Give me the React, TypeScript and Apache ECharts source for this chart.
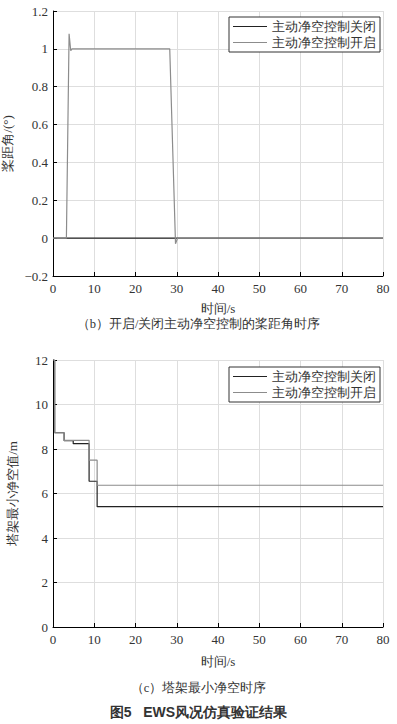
import React, { useEffect, useRef } from "react";
import * as echarts from "echarts";

const seriesNames = ["主动净空控制关闭", "主动净空控制开启"];

// Chart (b): pitch angle
const pitchOffT = [0, 80];
const pitchOffV = [0, 0];
const pitchOnT = [0, 3.25, 3.9, 4.3, 4.6, 28.3, 29.7, 30.2, 80];
const pitchOnV = [0, 0, 1.08, 0.99, 1, 1, -0.03, 0, 0];

// Chart (c): tower clearance
const clrOffT = [0, 0.4, 2.7, 4.9, 8.75, 10.7, 80];
const clrOffV = [12, 8.73, 8.37, 8.24, 6.55, 5.41, 5.41];
const clrOnT = [0, 0.4, 2.7, 8.75, 10.7, 80];
const clrOnV = [12, 8.73, 8.39, 7.5, 6.37, 6.37];

const zip = (t: number[], v: number[]) => t.map((x, i) => [x, v[i]]);

const FONT = "Liberation Serif";
const DARK = "#222";
const GRAY = "#8c8c8c";
const GRID = "#dedede";

export default function App() {
  const ref = useRef<HTMLDivElement>(null);
  useEffect(() => {
    if (!ref.current) return;
    const chart = echarts.init(ref.current, null, { renderer: "svg" });
    const axisCommon = {
      axisLine: { show: true, onZero: false, lineStyle: { color: "#000", width: 1 } },
      axisTick: { show: true, inside: true, length: 4, lineStyle: { color: "#000" } },
      splitLine: { show: true, lineStyle: { color: GRID, width: 1 } },
      axisLabel: { color: "#333", fontFamily: FONT, fontSize: 13 },
      nameTextStyle: { color: "#333", fontFamily: FONT, fontSize: 13 },
    };
    const fmtNum = (v: number) => {
      const r = parseFloat(v.toFixed(1));
      return r < 0 ? "\u2212" + Math.abs(r) : String(r);
    };
    const legendCommon = {
      orient: "vertical",
      data: seriesNames.map((n) => ({ name: n, icon: "rect" })),
      itemWidth: 34,
      itemHeight: 1.2,
      itemGap: 3,
      padding: [3, 4, 3, 4],
      borderColor: "#333",
      borderWidth: 1,
      backgroundColor: "#fff",
      textStyle: { color: "#333", fontFamily: FONT, fontSize: 13 },
      selectedMode: false,
    };
    chart.setOption({
      animation: false,
      textStyle: { fontFamily: FONT },
      grid: [
        { left: 53, top: 11, width: 330, height: 265, containLabel: false, outerBoundsMode: "none" },
        { left: 53, top: 360, width: 330, height: 267, containLabel: false, outerBoundsMode: "none" },
      ],
      xAxis: [
        {
          ...axisCommon,
          gridIndex: 0,
          type: "value",
          min: 0,
          max: 80,
          interval: 10,
          name: "时间/s",
          nameLocation: "middle",
          nameGap: 26,
          axisLabel: { ...axisCommon.axisLabel, margin: 6 },
        },
        {
          ...axisCommon,
          gridIndex: 1,
          type: "value",
          min: 0,
          max: 80,
          interval: 10,
          name: "时间/s",
          nameLocation: "middle",
          nameGap: 28,
          axisLabel: { ...axisCommon.axisLabel, margin: 6 },
        },
      ],
      yAxis: [
        {
          ...axisCommon,
          gridIndex: 0,
          type: "value",
          min: -0.2,
          max: 1.2,
          interval: 0.2,
          name: "桨距角/(°)",
          nameLocation: "middle",
          nameGap: 33,
          nameRotate: 90,
          axisLabel: { ...axisCommon.axisLabel, margin: 5, formatter: fmtNum },
        },
        {
          ...axisCommon,
          gridIndex: 1,
          type: "value",
          min: 0,
          max: 12,
          interval: 2,
          name: "塔架最小净空值/m",
          nameLocation: "middle",
          nameGap: 34,
          nameRotate: 90,
          axisLabel: { ...axisCommon.axisLabel, margin: 5 },
        },
      ],
      legend: [
        { ...legendCommon, left: 229, top: 17 },
        { ...legendCommon, left: 229, top: 367 },
      ],
      series: [
        {
          name: seriesNames[0],
          type: "line",
          xAxisIndex: 0,
          yAxisIndex: 0,
          data: zip(pitchOffT, pitchOffV),
          symbol: "none",
          lineStyle: { color: DARK, width: 1.2 },
          itemStyle: { color: DARK },
        },
        {
          name: seriesNames[1],
          type: "line",
          xAxisIndex: 0,
          yAxisIndex: 0,
          data: zip(pitchOnT, pitchOnV),
          symbol: "none",
          lineStyle: { color: GRAY, width: 1.2 },
          itemStyle: { color: GRAY },
        },
        {
          name: seriesNames[0],
          type: "line",
          xAxisIndex: 1,
          yAxisIndex: 1,
          step: "end",
          data: zip(clrOffT, clrOffV),
          symbol: "none",
          lineStyle: { color: DARK, width: 1.2 },
          itemStyle: { color: DARK },
        },
        {
          name: seriesNames[1],
          type: "line",
          xAxisIndex: 1,
          yAxisIndex: 1,
          step: "end",
          data: zip(clrOnT, clrOnV),
          symbol: "none",
          lineStyle: { color: GRAY, width: 1.2 },
          itemStyle: { color: GRAY },
        },
      ],
      graphic: [
        {
          type: "text",
          left: "center",
          top: 317,
          style: {
            text: "（b）开启/关闭主动净空控制的桨距角时序",
            fill: "#333",
            fontFamily: FONT,
            fontSize: 12.5,
          },
        },
        {
          type: "text",
          left: "center",
          top: 681,
          style: {
            text: "（c）塔架最小净空时序",
            fill: "#333",
            fontFamily: FONT,
            fontSize: 12.5,
          },
        },
        {
          type: "text",
          left: "center",
          top: 705,
          style: {
            text: "图5   EWS风况仿真验证结果",
            fill: "#333",
            fontFamily: "sans-serif",
            fontSize: 14,
            fontWeight: "bold",
          },
        },
      ],
    } as any);
    return () => chart.dispose();
  }, []);
  return (
    <div
      ref={ref}
      style={{ position: "fixed", left: 0, top: 0, width: 397, height: 724, background: "#fff" }}
    />
  );
}
